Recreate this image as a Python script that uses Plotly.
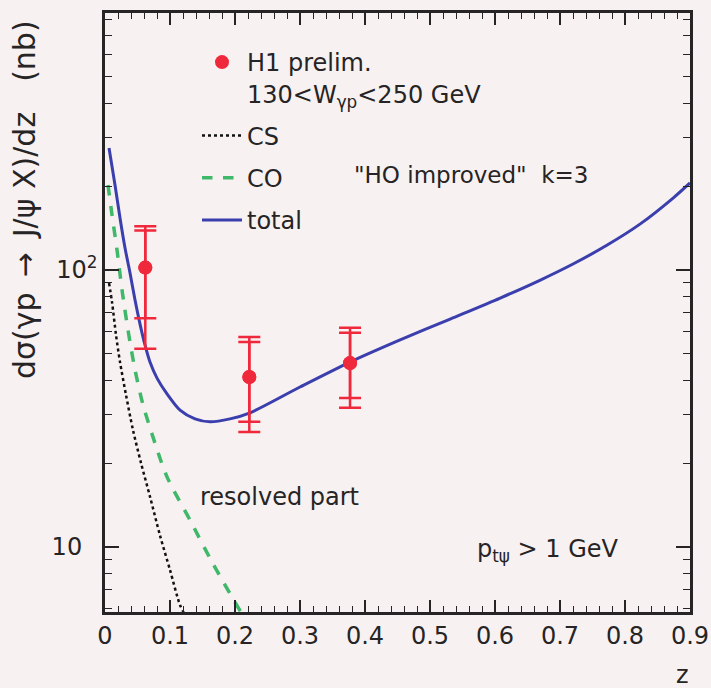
import plotly.graph_objects as go

# ---- data ----
z_total = [0.0062, 0.0154, 0.0231, 0.0308, 0.0385, 0.0462, 0.0538, 0.0615, 0.0692, 0.08,
           0.0954, 0.1154, 0.1385, 0.1615, 0.1923, 0.2231, 0.30, 0.377, 0.454, 0.531,
           0.608, 0.669, 0.72, 0.772, 0.823, 0.874, 0.90]
y_total = [275.7, 202.7, 154.0, 120.1, 97.5, 77.9, 63.9, 53.6, 46.5, 40.7,
           35.7, 31.2, 29.0, 28.3, 29.0, 30.5, 37.8, 46.5, 55.9, 66.5,
           79.2, 91.8, 105.1, 122.8, 146.4, 181.9, 206.3]

z_co = [0.0046, 0.0108, 0.0185, 0.0262, 0.0354, 0.0462, 0.0585, 0.0769, 0.0954, 0.1308,
        0.1646, 0.2108, 0.223]
y_co = [202.7, 158, 118.1, 84.7, 60.7, 43.6, 32.6, 23.7, 17.9, 12.5,
        8.83, 5.73, 5.2]

z_cs = [0.0062, 0.0108, 0.0169, 0.0231, 0.0323, 0.0431, 0.0554, 0.0692, 0.0846, 0.10,
        0.1154, 0.1246]
y_cs = [89.7, 76.6, 58.3, 46.5, 35.4, 26.4, 20.1, 15.2, 11.0, 8.26,
        6.17, 5.6]

z_data = [0.062, 0.222, 0.377]
y_data = [102, 41.1, 46.1]
stat_up = [37, 13.9, 13.2]
stat_dn = [35, 12.8, 11.6]
tot_up = [42, 16.2, 15.7]
tot_dn = [50, 15.1, 14.3]

x_ticks = [0, 0.1, 0.2, 0.3, 0.4, 0.5, 0.6, 0.7, 0.8, 0.9]
x_ticklabels = ["0", "0.1", "0.2", "0.3", "0.4", "0.5", "0.6", "0.7", "0.8", "0.9"]
y_ticks = [10, 100]
y_ticklabels = ["10<span style='color:rgba(0,0,0,0)'>0</span>", "10<sup>2</sup>"]
y_minor = [6, 7, 8, 9, 20, 30, 40, 50, 60, 70, 80, 90, 200, 300, 400, 500, 600, 700, 800]

BG = "#f8f1f1"
INK = "#262424"
RED = "#f0283c"
FONT = "DejaVu Sans"

W, H = 711, 688
PL, PR, PT, PB = 105, 21, 13, 76
pw, ph = W - PL - PR, H - PT - PB

fig = go.Figure()

fig.add_trace(go.Scatter(
    x=z_cs, y=y_cs, mode="lines", name="CS", legendgroup="cs", legendrank=2,
    line=dict(color="#111111", width=2.5, dash="dot", shape="spline", smoothing=0.8)))
fig.add_trace(go.Scatter(
    x=z_co, y=y_co, mode="lines", name="CO", legendgroup="co", legendrank=3,
    line=dict(color="#3fb86a", width=3.5, dash="dash", shape="spline", smoothing=0.8)))
fig.add_trace(go.Scatter(
    x=z_total, y=y_total, mode="lines", name="total", legendgroup="tot", legendrank=4,
    line=dict(color="#3b3fae", width=3, shape="spline", smoothing=0.8)))

# total errors (outer caps)
fig.add_trace(go.Scatter(
    x=z_data, y=y_data, mode="markers", showlegend=False, legendgroup="h1",
    marker=dict(color=RED, size=14),
    error_y=dict(type="data", symmetric=False, array=tot_up, arrayminus=tot_dn,
                 color=RED, thickness=2.5, width=11)))
# statistical errors (inner caps)
fig.add_trace(go.Scatter(
    x=z_data, y=y_data, mode="markers", name="H1 prelim.<br>130&lt;W<sub>γp</sub>&lt;250 GeV",
    legendgroup="h1", legendrank=1,
    marker=dict(color=RED, size=14),
    error_y=dict(type="data", symmetric=False, array=stat_up, arrayminus=stat_dn,
                 color=RED, thickness=2.5, width=11)))

fig.update_layout(
    template="none",
    width=W, height=H,
    margin=dict(l=PL, r=PR, t=PT, b=PB, pad=0, autoexpand=False),
    paper_bgcolor=BG, plot_bgcolor=BG,
    font=dict(family=FONT, size=24, color=INK),
    showlegend=True,
    legend=dict(x=(197 - PL) / pw, y=1 - (40 - PT) / ph, xanchor="left", yanchor="top",
                bgcolor="rgba(0,0,0,0)", borderwidth=0,
                font=dict(size=24, color=INK, family=FONT),
                itemwidth=40, valign="top", tracegroupgap=8,
                traceorder="grouped"),
)

fig.update_xaxes(
    range=[0, 0.9], tickvals=x_ticks, ticktext=x_ticklabels, automargin=False,
    ticks="inside", ticklen=12, tickwidth=1.5, tickcolor=INK,
    showline=True, linecolor=INK, linewidth=2.5, mirror="ticks",
    showgrid=False, zeroline=False, ticklabelstandoff=0,
    tickfont=dict(size=24, color=INK, family=FONT),
    minor=dict(dtick=0.02, ticks="inside", ticklen=6, tickcolor=INK, tickwidth=1, showgrid=False),
)
fig.update_yaxes(
    type="log", range=[0.765, 2.928], tickvals=y_ticks, ticktext=y_ticklabels, automargin=False,
    ticks="inside", ticklen=14, tickwidth=1.5, tickcolor=INK,
    showline=True, linecolor=INK, linewidth=2.5, mirror="ticks",
    showgrid=False, zeroline=False, ticklabelstandoff=0,
    tickfont=dict(size=24, color=INK, family=FONT),
    minor=dict(tickmode="array", tickvals=y_minor, ticks="inside", ticklen=7,
               tickcolor=INK, tickwidth=1, showgrid=False),
)

ann = dict(showarrow=False)
layout_ann = [
    dict(text="\"HO improved\"  k=3", px=352, py=175, anchor="left", size=23),
    dict(text="resolved part", px=198, py=497, anchor="left", size=24),
    dict(text="p<sub>tψ</sub> &gt; 1 GeV", px=475, py=550, anchor="left", size=24),
    dict(text="z", px=682, py=675, anchor="center", size=24),
]
for a in layout_ann:
    fig.add_annotation(text=a["text"], x=(a["px"] - PL) / pw, y=1 - (a["py"] - PT) / ph,
                       xref="paper", yref="paper", xanchor=a["anchor"], yanchor="middle",
                       font=dict(family=FONT, size=a["size"], color=INK), **ann)

fig.add_annotation(text="dσ(γp\u2002→\u2002J/ψ X)/dz\u2002\u2002(nb)", textangle=-90,
                   x=(25 - PL) / pw, y=1 - (200 - PT) / ph, xref="paper", yref="paper",
                   xanchor="center", yanchor="middle", showarrow=False,
                   font=dict(family=FONT, size=30, color=INK))

fig.write_html("out.html", config={"displayModeBar": False},
               post_script="document.body.style.margin='0';document.body.style.background='%s';" % BG)
